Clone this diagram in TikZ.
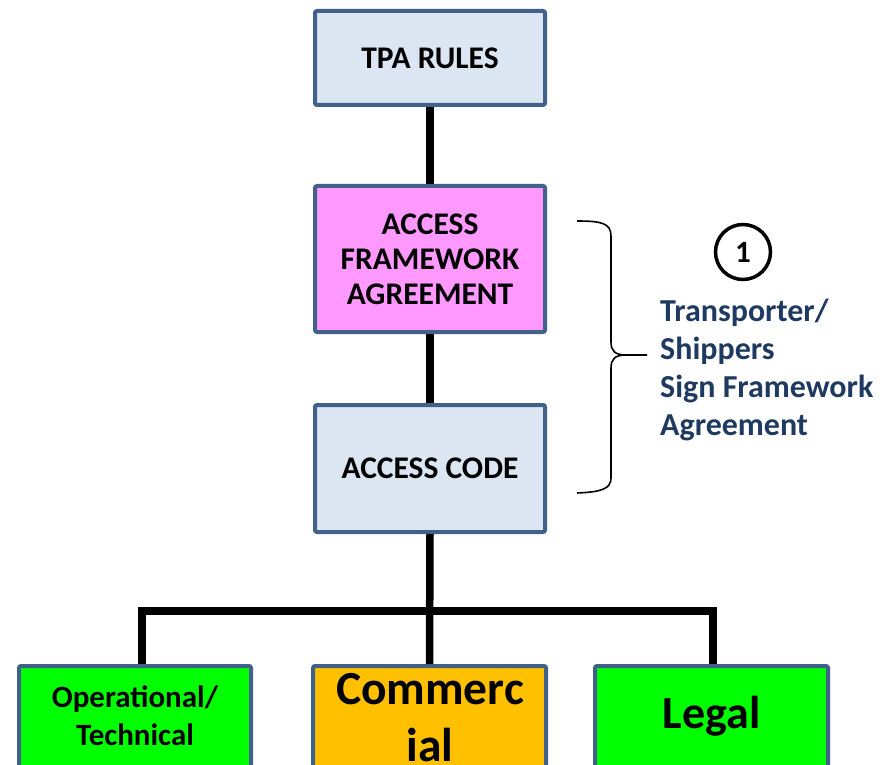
\documentclass[tikz,border=0pt]{standalone}
\usepackage{fontspec}
\setmainfont{Carlito}
\definecolor{boxline}{HTML}{41618A}
\definecolor{lightblue}{HTML}{DCE6F2}
\definecolor{pinkfill}{HTML}{FF99FF}
\definecolor{greenfill}{HTML}{00FF00}
\definecolor{orangefill}{HTML}{FFC000}
\definecolor{navytext}{HTML}{1F3A60}
\begin{document}
\begin{tikzpicture}[x=1pt,y=-1pt,
  box/.style={draw=boxline, line width=4pt, rounded corners=2pt, minimum width=230pt,
    inner sep=0pt, align=center, font=\bfseries\fontsize{31.5}{35}\selectfont},
  bbox/.style={box, minimum width=233pt, minimum height=140pt},
  conn/.style={line width=7.5pt, black},
  btext/.style={align=center, inner sep=0pt}]
\useasboundingbox (0,0) rectangle (892,765);
\clip (0,0) rectangle (892,765);
% upper boxes
\node[box, fill=lightblue, minimum height=94pt] (tpa) at (430,58) {TPA RULES};
\node[box, fill=pinkfill, minimum height=146pt] (afa) at (430,259) {ACCESS\\FRAMEWORK\\AGREEMENT};
\node[box, fill=lightblue, minimum height=127pt] (ac) at (430,468.5) {ACCESS CODE};
% bottom boxes
\node[bbox, fill=greenfill, minimum width=232pt] (op) at (135,736) {};
\node[bbox, fill=orangefill] (com) at (429.5,736) {};
\node[bbox, fill=greenfill] (leg) at (711.5,736) {};
\node[btext, font=\bfseries\fontsize{31}{38}\selectfont] (optxt) at (135,716) {Operational/\\Technical};
\node[btext, font=\bfseries\fontsize{47.5}{57}\selectfont] (comtxt) at (430,718) {Commerc\\ial};
\node[btext, font=\bfseries\fontsize{46}{57}\selectfont] (legtxt) at (711.5,716) {Legal};
% connectors
\coordinate (j) at (430,611);
\coordinate (opdrop) at ([xshift=7pt]op.north);
\coordinate (legdrop) at ([xshift=1.5pt]leg.north);
\draw[conn] (tpa.south) -- (afa.north);
\draw[conn] (afa.south) -- (ac.north);
\draw[conn] (ac.south) -- (com.north);
\draw[conn] (opdrop) |- (j) -| (legdrop);
% brace
\coordinate (bt) at (577,221);
\coordinate (bm) at (647,355);
\coordinate (bb) at (577,493);
\draw[line width=1.6pt] (bt) .. controls (601,221) and (611,223) .. (611,236) -- (611,342)
  .. controls (611,351) and (615,355) .. (626,355) -- (bm);
\draw[line width=1.6pt] (626,355) .. controls (615,355) and (611,359) .. (611,368) -- (611,478)
  .. controls (611,489) and (601,492) .. (bb);
% annotation
\node[circle, draw=black, line width=3.5pt, minimum size=55pt, inner sep=0pt,
  font=\bfseries\fontsize{31}{34}\selectfont] (one) at (743,252) {1};
\node[anchor=west, align=left, inner sep=0pt, text=navytext,
  font=\bfseries\fontsize{32}{38}\selectfont] (note) at (660,370)
  {Transporter/\\Shippers\\Sign Framework\\Agreement};
\end{tikzpicture}
\end{document}
